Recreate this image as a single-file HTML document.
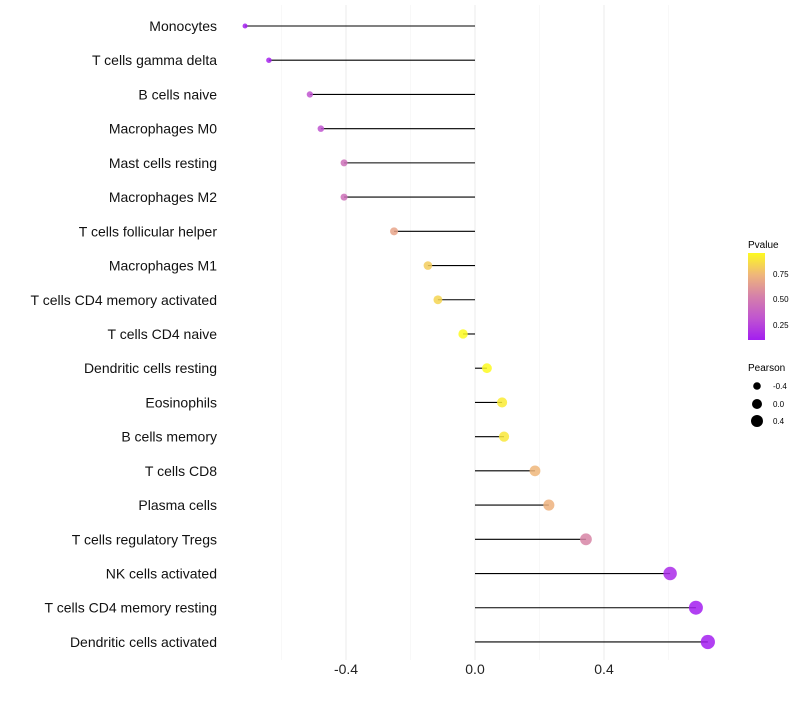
<!DOCTYPE html>
<html><head><meta charset="utf-8"><style>
body{margin:0;background:#fff;font-family:"Liberation Sans",sans-serif;}
svg text{font-family:"Liberation Sans",sans-serif;}
</style></head><body>
<svg id="chart" width="800" height="700" xmlns="http://www.w3.org/2000/svg">
<g id="grid"></g><g id="marks"></g><g id="labels"></g>
<g>
<text x="748" y="248" font-size="10">Pvalue</text>
<defs><linearGradient id="cg" x1="0" y1="1" x2="0" y2="0">
<stop offset="0" stop-color="#a31ef0"/><stop offset="0.25" stop-color="#c055d0"/><stop offset="0.5" stop-color="#d580aa"/><stop offset="0.75" stop-color="#efb67a"/><stop offset="1" stop-color="#fdfa20"/></linearGradient></defs>
<rect x="748" y="253" width="17" height="87" fill="url(#cg)"/>
<text x="773" y="277" font-size="8">0.75</text><text x="773" y="302" font-size="8">0.50</text><text x="773" y="328" font-size="8">0.25</text>
<text x="748" y="371" font-size="10">Pearson</text>
<circle cx="757" cy="386" r="3.8"/><text x="773" y="389" font-size="8">-0.4</text>
<circle cx="757" cy="404" r="5"/><text x="773" y="407" font-size="8">0.0</text>
<circle cx="757" cy="421" r="6"/><text x="773" y="424" font-size="8">0.4</text>
</g>
</svg>
<script>
const categories=["Monocytes","T cells gamma delta","B cells naive","Macrophages M0","Mast cells resting","Macrophages M2","T cells follicular helper","Macrophages M1","T cells CD4 memory activated","T cells CD4 naive","Dendritic cells resting","Eosinophils","B cells memory","T cells CD8","Plasma cells","T cells regulatory  Tregs ","NK cells activated","T cells CD4 memory resting","Dendritic cells activated"];
const pearson=[-0.713,-0.639,-0.512,-0.478,-0.406,-0.406,-0.251,-0.146,-0.115,-0.037,0.037,0.084,0.090,0.186,0.229,0.344,0.605,0.685,0.722];
const pvalues=[0.08,0.12,0.32,0.32,0.45,0.45,0.68,0.82,0.85,0.97,0.97,0.92,0.91,0.75,0.73,0.55,0.15,0.1,0.1];
const xTicks=[-0.4,0.0,0.4];
const xTickLabels=["-0.4","0.0","0.4"];
const ns="http://www.w3.org/2000/svg";
const xs=v=>475+v*322.5;
const ys=i=>26+i*34.22;
const rs=v=>4.8+3.2*v;
const stops=[[0.1,[163,30,240]],[0.32,[192,85,208]],[0.53,[213,128,170]],[0.75,[239,182,122]],[0.97,[253,250,32]]];
function col(p){if(p<=stops[0][0])return `rgb(${stops[0][1]})`;for(let k=1;k<stops.length;k++){if(p<=stops[k][0]){const t=(p-stops[k-1][0])/(stops[k][0]-stops[k-1][0]);const a=stops[k-1][1],b=stops[k][1];return `rgb(${a.map((c,j)=>Math.round(c+(b[j]-c)*t))})`;}}return `rgb(${stops[4][1]})`;}
function mk(tag,attrs,parent){const e=document.createElementNS(ns,tag);for(const k in attrs)e.setAttribute(k,attrs[k]);document.getElementById(parent).appendChild(e);return e;}
[-0.6,-0.2,0.2,0.6].forEach(v=>{const l=mk('line',{x1:xs(v),x2:xs(v),y1:5,y2:660,stroke:'#f3f3f3','stroke-width':0.6},'grid');

});
xTicks.forEach((v,i)=>{const l=mk('line',{x1:xs(v),x2:xs(v),y1:5,y2:660,stroke:'#ebebeb','stroke-width':1},'grid');


const t=mk('text',{x:xs(v),y:674,'font-size':14,'text-anchor':'middle',fill:'#222'},'labels');t.textContent=xTickLabels[i];

});
categories.forEach((c,i)=>{const y=ys(i);
const l=mk('line',{x1:xs(0),x2:xs(pearson[i]),y1:y,y2:y,stroke:'#000','stroke-width':1.1},'marks');


const ci=mk('circle',{cx:xs(pearson[i]),cy:y,r:rs(pearson[i]),fill:col(pvalues[i]),'fill-opacity':0.85},'marks');


const t=mk('text',{x:217,y:y+5,'font-size':14,'text-anchor':'end',fill:'#111'},'labels');t.textContent=c;

});
</script>
</body></html>
